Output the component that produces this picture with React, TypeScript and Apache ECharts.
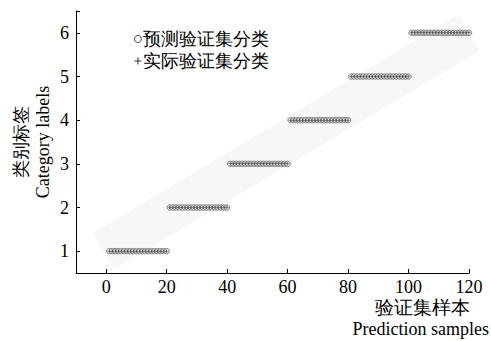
import React, { useEffect, useRef } from "react";
import * as echarts from "echarts";

const xTickValues = [0, 20, 40, 60, 80, 100, 120];
const yTickValues = [1, 2, 3, 4, 5, 6];
const predictedLabels = [
  1, 1, 1, 1, 1, 1, 1, 1, 1, 1, 1, 1, 1, 1, 1, 1, 1, 1, 1, 1,
  2, 2, 2, 2, 2, 2, 2, 2, 2, 2, 2, 2, 2, 2, 2, 2, 2, 2, 2, 2,
  3, 3, 3, 3, 3, 3, 3, 3, 3, 3, 3, 3, 3, 3, 3, 3, 3, 3, 3, 3,
  4, 4, 4, 4, 4, 4, 4, 4, 4, 4, 4, 4, 4, 4, 4, 4, 4, 4, 4, 4,
  5, 5, 5, 5, 5, 5, 5, 5, 5, 5, 5, 5, 5, 5, 5, 5, 5, 5, 5, 5,
  6, 6, 6, 6, 6, 6, 6, 6, 6, 6, 6, 6, 6, 6, 6, 6, 6, 6, 6, 6,
];
const actualLabels = [
  1, 1, 1, 1, 1, 1, 1, 1, 1, 1, 1, 1, 1, 1, 1, 1, 1, 1, 1, 1,
  2, 2, 2, 2, 2, 2, 2, 2, 2, 2, 2, 2, 2, 2, 2, 2, 2, 2, 2, 2,
  3, 3, 3, 3, 3, 3, 3, 3, 3, 3, 3, 3, 3, 3, 3, 3, 3, 3, 3, 3,
  4, 4, 4, 4, 4, 4, 4, 4, 4, 4, 4, 4, 4, 4, 4, 4, 4, 4, 4, 4,
  5, 5, 5, 5, 5, 5, 5, 5, 5, 5, 5, 5, 5, 5, 5, 5, 5, 5, 5, 5,
  6, 6, 6, 6, 6, 6, 6, 6, 6, 6, 6, 6, 6, 6, 6, 6, 6, 6, 6, 6,
];
const bandLine = [
  [-1, 1.0],
  [120, 6.0],
];

const SERIF = "Liberation Serif";
const PLUS = "path://M-0.15,-1H0.15V-0.15H1V0.15H0.15V1H-0.15V0.15H-1V-0.15H-0.15Z";

export default function App() {
  const ref = useRef<HTMLDivElement>(null);
  useEffect(() => {
    if (!ref.current) return;
    const chart = echarts.init(ref.current, undefined, { renderer: "svg" });
    const predPts = predictedLabels.map((v, i) => [i + 1, v]);
    const actPts = actualLabels.map((v, i) => [i + 1, v]);
    chart.setOption({
      animation: false,
      backgroundColor: "#fff",
      textStyle: { fontFamily: SERIF },
      grid: { left: 76, top: 11, right: 22, bottom: 68, containLabel: false, outerBoundsMode: "none" },
      title: [
        {
          text: "验证集样本",
          right: 21,
          top: 298,
          padding: 0,
          textStyle: { fontSize: 19, fontFamily: SERIF, fontWeight: "normal", color: "#000" },
        },
        {
          text: "Prediction samples",
          right: 2,
          top: 320,
          padding: 0,
          textStyle: { fontSize: 18, fontFamily: SERIF, fontWeight: "normal", color: "#000" },
        },
      ],
      xAxis: {
        type: "value",
        min: -10,
        max: 120,
        splitLine: { show: false },
        axisLine: { show: true, onZero: false, lineStyle: { color: "#000", width: 1 } },
        axisTick: { show: true, inside: true, length: 4, customValues: xTickValues, lineStyle: { color: "#000" } },
        axisLabel: { customValues: xTickValues, fontSize: 18, color: "#000", fontFamily: SERIF, margin: 5 },
      },
      yAxis: {
        type: "value",
        min: 0.5,
        max: 6.5,
        name: "类别标签\nCategory labels",
        nameLocation: "middle",
        nameGap: 22,
        nameMoveOverlap: false,
        nameTextStyle: { fontSize: 18, fontFamily: SERIF, color: "#000", lineHeight: 22 },
        splitLine: { show: false },
        axisLine: { show: true, onZero: false, lineStyle: { color: "#000", width: 1 } },
        axisTick: { show: true, inside: true, length: 4, customValues: [...yTickValues, 6.5], lineStyle: { color: "#000" } },
        axisLabel: { customValues: yTickValues, fontSize: 18, color: "#000", fontFamily: SERIF, margin: 7 },
      },
      legend: {
        left: 129,
        top: 25,
        orient: "vertical",
        itemWidth: 7,
        itemHeight: 7,
        itemGap: 4,
        textStyle: { fontSize: 18, color: "#000", fontFamily: SERIF, padding: [0, 0, 0, -3] },
        data: [
          { name: "预测验证集分类", icon: "circle", itemStyle: { color: "#fff", borderColor: "#000", borderWidth: 0.9 } },
          { name: "实际验证集分类", icon: PLUS, itemStyle: { color: "#000", borderWidth: 0 } },
        ],
      },
      series: [
        {
          type: "line",
          name: "band",
          data: bandLine,
          symbol: "none",
          silent: true,
          clip: false,
          lineStyle: { color: "#f7f7f7", width: 42, cap: "butt" },
          z: 1,
        },
        {
          type: "scatter",
          name: "预测验证集分类",
          data: predPts,
          symbol: "circle",
          symbolSize: 5.5,
          itemStyle: { color: "rgba(200,200,200,0.7)", borderColor: "#555", borderWidth: 0.8 },
          z: 3,
        },
        {
          type: "scatter",
          name: "实际验证集分类",
          data: actPts,
          symbol: PLUS,
          symbolSize: 3.6,
          itemStyle: { color: "#333" },
          z: 4,
        },
      ],
    });
    return () => chart.dispose();
  }, []);
  return <div ref={ref} style={{ position: "fixed", left: 0, top: 0, width: 491, height: 341 }} />;
}
